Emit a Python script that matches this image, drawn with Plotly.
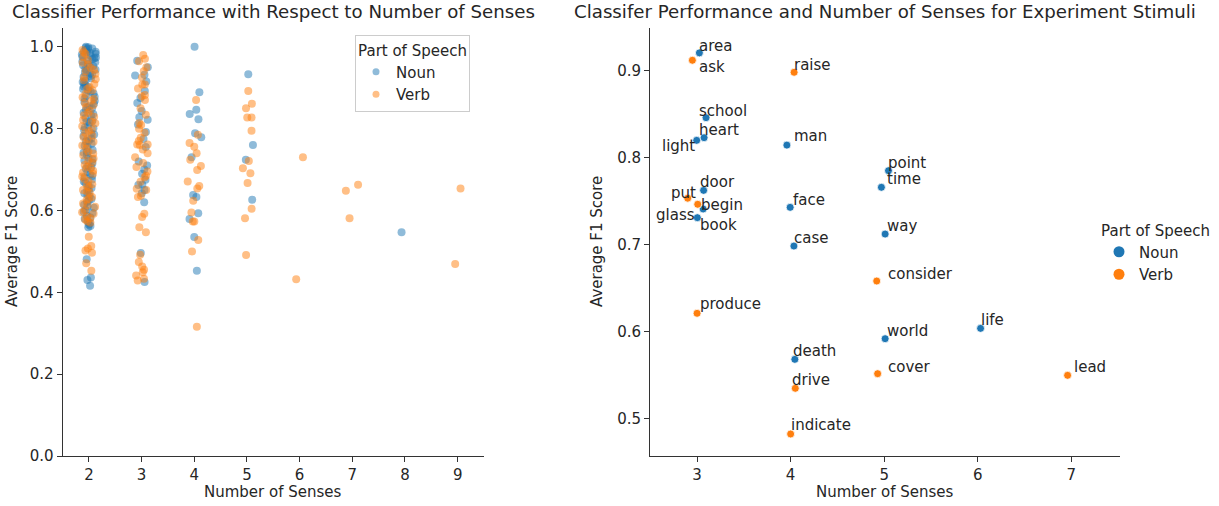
import plotly.graph_objects as go

# ---------------- data: F1 score by number of senses (all words) ----------------
noun_s2 = [1.0, 0.999, 0.998, 0.996, 0.995, 0.993, 0.99, 0.988, 0.987, 0.985, 0.983, 0.981,
           0.978, 0.976, 0.974, 0.972, 0.97, 0.967, 0.964, 0.962, 0.958, 0.955, 0.953, 0.951,
           0.946, 0.944, 0.942, 0.937, 0.935, 0.932, 0.928, 0.926, 0.923, 0.917, 0.914, 0.912,
           0.906, 0.903, 0.901, 0.897, 0.893, 0.891, 0.886, 0.88, 0.878, 0.874, 0.868, 0.865,
           0.861, 0.855, 0.852, 0.85, 0.846, 0.839, 0.836, 0.833, 0.826, 0.82, 0.817, 0.815,
           0.808, 0.803, 0.801, 0.797, 0.789, 0.786, 0.782, 0.776, 0.771, 0.769, 0.763, 0.758,
           0.755, 0.748, 0.743, 0.741, 0.736, 0.729, 0.725, 0.722, 0.716, 0.709, 0.706, 0.702,
           0.694, 0.688, 0.684, 0.681, 0.675, 0.671, 0.668, 0.661, 0.655, 0.652, 0.648, 0.642,
           0.638, 0.635, 0.628, 0.624, 0.621, 0.614, 0.61, 0.607, 0.601, 0.597, 0.594, 0.587,
           0.583, 0.58, 0.573, 0.569, 0.566, 0.562, 0.559, 0.481, 0.436, 0.43, 0.416]
verb_s2 = [0.992, 0.987, 0.983, 0.975, 0.968, 0.961, 0.957, 0.949, 0.944, 0.94, 0.934, 0.925,
           0.921, 0.918, 0.909, 0.902, 0.897, 0.894, 0.884, 0.877, 0.873, 0.869, 0.862, 0.857,
           0.853, 0.844, 0.838, 0.833, 0.829, 0.821, 0.817, 0.813, 0.806, 0.798, 0.794, 0.79,
           0.783, 0.779, 0.774, 0.768, 0.763, 0.759, 0.751, 0.744, 0.739, 0.735, 0.727, 0.722,
           0.718, 0.711, 0.707, 0.703, 0.697, 0.693, 0.69, 0.683, 0.677, 0.672, 0.664, 0.661,
           0.657, 0.65, 0.646, 0.643, 0.633, 0.629, 0.626, 0.617, 0.613, 0.609, 0.6, 0.596,
           0.592, 0.585, 0.581, 0.578, 0.574, 0.57, 0.536, 0.513, 0.507, 0.502, 0.497, 0.471,
           0.453]
noun_s3 = [0.966, 0.95, 0.932, 0.93, 0.915, 0.892, 0.875, 0.863, 0.843, 0.828, 0.822, 0.81,
           0.792, 0.775, 0.755, 0.72, 0.71, 0.7, 0.69, 0.675, 0.663, 0.662, 0.65, 0.642, 0.62,
           0.496, 0.425]
verb_s3 = [0.98, 0.971, 0.965, 0.95, 0.94, 0.925, 0.908, 0.908, 0.898, 0.882, 0.879, 0.87,
           0.85, 0.834, 0.814, 0.809, 0.8, 0.79, 0.778, 0.77, 0.761, 0.761, 0.76, 0.749, 0.74,
           0.73, 0.716, 0.706, 0.695, 0.685, 0.681, 0.67, 0.653, 0.65, 0.636, 0.633, 0.592,
           0.584, 0.559, 0.547, 0.492, 0.474, 0.463, 0.455, 0.449, 0.441, 0.433, 0.429]
noun_s4 = [1.0, 0.889, 0.846, 0.836, 0.823, 0.789, 0.779, 0.73, 0.638, 0.633, 0.593, 0.579,
           0.535, 0.453]
verb_s4 = [0.87, 0.785, 0.765, 0.756, 0.74, 0.724, 0.709, 0.699, 0.671, 0.66, 0.654, 0.624,
           0.595, 0.573, 0.573, 0.528, 0.5, 0.316]
noun_s5 = [0.933, 0.76, 0.724, 0.626]
verb_s5 = [0.892, 0.861, 0.85, 0.827, 0.827, 0.795, 0.721, 0.703, 0.691, 0.667, 0.604, 0.581,
           0.491]
verb_s6 = [0.73, 0.432]
verb_s7 = [0.663, 0.648, 0.581]
noun_s8 = [0.547]
verb_s9 = [0.654, 0.469]

# ---------------- data: experiment stimuli ----------------
stim_words = ["area", "ask", "raise", "school", "heart", "light", "man", "door", "put",
              "begin", "book", "glass", "point", "time", "face", "way", "case", "consider",
              "life", "world", "death", "cover", "lead", "drive", "produce", "indicate"]
stim_pos = ["Noun", "Verb", "Verb", "Noun", "Noun", "Noun", "Noun", "Noun", "Verb",
            "Verb", "Noun", "Noun", "Noun", "Noun", "Noun", "Noun", "Noun", "Verb",
            "Noun", "Noun", "Noun", "Verb", "Verb", "Verb", "Verb", "Verb"]
stim_senses = [3.025, 2.95, 4.037, 3.096, 3.075, 2.996, 3.96, 3.07, 2.90,
               3.007, 3.065, 3.003, 5.046, 4.97, 3.995, 5.01, 4.035, 4.92,
               6.03, 5.01, 4.045, 4.93, 6.96, 4.05, 3.0, 4.0]
stim_f1 = [0.920, 0.9115, 0.8977, 0.8455, 0.8225, 0.8195, 0.814, 0.762, 0.753,
           0.746, 0.7406, 0.7306, 0.7846, 0.7655, 0.7425, 0.7118, 0.698, 0.6578,
           0.6034, 0.5915, 0.5678, 0.5513, 0.5494, 0.5345, 0.6207, 0.482]

# ---------------- styling ----------------
W, H = 1219, 506
FONT = "DejaVu Sans"
TXT = "#262626"
AX = "#333333"
BLUE = "#1f77b4"
ORANGE = "#ff7f0e"
COLORS = {"Noun": BLUE, "Verb": ORANGE}

# label placement in pixels: horizontal shift, baseline offset below the dot, anchor side
label_dx = [-1, 6, -1, -8, -6, -1, 6, -5, 9,
            2, -4, -1, -2, 5, 2, 1, -1, 10,
            -1, 1, -3, 9, 5, -4, 2, -1]
label_base = [-2, 12, -2, -2, -3, 11, -4, -3, 0,
              6, 21, 2, -3, -3, -2, -3, -3, -2,
              -3, -3, -3, -2, -3, -3, -4, -4]
label_side = ["left", "left", "left", "left", "left", "right", "left", "left", "right",
              "left", "left", "right", "left", "left", "left", "left", "left", "left",
              "left", "left", "left", "left", "left", "left", "left", "left"]


def px(x):
    return x / W


def py(y):
    return 1 - y / H


fig = go.Figure()

# strip plot: one invisible box per part of speech carries jittered points
strip_groups = {
    "Noun": [(2, noun_s2), (3, noun_s3), (4, noun_s4), (5, noun_s5), (8, noun_s8)],
    "Verb": [(2, verb_s2), (3, verb_s3), (4, verb_s4), (5, verb_s5), (6, verb_s6),
             (7, verb_s7), (9, verb_s9)],
}
for pos, groups in strip_groups.items():
    xs, ys = [], []
    for senses, vals in groups:
        xs += [senses] * len(vals)
        ys += vals
    fig.add_trace(go.Box(
        x=xs, y=ys, name=pos, boxpoints="all", jitter=0.57, pointpos=0,
        fillcolor="rgba(0,0,0,0)", line=dict(color="rgba(0,0,0,0)", width=0),
        whiskerwidth=0, hoveron="points",
        marker=dict(color=COLORS[pos], size=8, opacity=0.5, line=dict(width=0)),
        showlegend=False, xaxis="x", yaxis="y",
    ))
    fig.add_trace(go.Scatter(
        x=[None], y=[None], mode="markers", name=pos, legend="legend",
        marker=dict(color=COLORS[pos], size=7, opacity=0.5), xaxis="x", yaxis="y",
    ))

# stimuli scatter
for pos in ["Noun", "Verb"]:
    idx = [i for i, p in enumerate(stim_pos) if p == pos]
    fig.add_trace(go.Scatter(
        x=[stim_senses[i] for i in idx], y=[stim_f1[i] for i in idx],
        text=[stim_words[i] for i in idx], mode="markers", name=pos,
        marker=dict(color=COLORS[pos], size=8, line=dict(color="white", width=0.8)),
        showlegend=False, xaxis="x2", yaxis="y2",
    ))
    fig.add_trace(go.Scatter(
        x=[None], y=[None], mode="markers", name=pos, legend="legend2",
        marker=dict(color=COLORS[pos], size=11), xaxis="x2", yaxis="y2",
    ))

annotations = []
for i, word in enumerate(stim_words):
    annotations.append(dict(
        x=stim_senses[i], y=stim_f1[i], xref="x2", yref="y2", text=word,
        showarrow=False, xanchor=label_side[i], yanchor="middle",
        xshift=label_dx[i], yshift=5 - label_base[i], borderpad=0,
        font=dict(family=FONT, size=15, color=TXT),
    ))

for cx, title in [(273, "Classifier Performance with Respect to Number of Senses"),
                  (885, "Classifer Performance and Number of Senses for Experiment Stimuli")]:
    annotations.append(dict(x=px(cx), y=py(12), xref="paper", yref="paper", text=title,
                            showarrow=False, xanchor="center", yanchor="middle",
                            font=dict(family=FONT, size=18.2, color=TXT)))
    annotations.append(dict(x=px(cx), y=py(492), xref="paper", yref="paper",
                            text="Number of Senses", showarrow=False,
                            xanchor="center", yanchor="middle",
                            font=dict(family=FONT, size=15, color=TXT)))
for cx in [12, 597]:
    annotations.append(dict(x=px(cx), y=py(242), xref="paper", yref="paper",
                            text="Average F1 Score", textangle=-90, showarrow=False,
                            xanchor="center", yanchor="middle",
                            font=dict(family=FONT, size=15, color=TXT)))

axis_common = dict(showline=True, linecolor=AX, linewidth=1, ticks="outside", ticklen=5,
                   tickcolor=AX, showgrid=False, zeroline=False,
                   tickfont=dict(family=FONT, size=15, color=TXT))
ydom = [py(456), py(28)]

fig.update_layout(
    width=W, height=H,
    margin=dict(l=0, r=0, t=0, b=0, autoexpand=False),
    paper_bgcolor="white", plot_bgcolor="white",
    boxmode="overlay",
    font=dict(family=FONT, size=15, color=TXT),
    xaxis=dict(domain=[px(62.6), px(484)], range=[1.5, 9.5],
               tickvals=[2, 3, 4, 5, 6, 7, 8, 9], anchor="y", **axis_common),
    yaxis=dict(domain=ydom, range=[0, 1.046], tickvals=[0, 0.2, 0.4, 0.6, 0.8, 1.0],
               tickformat=".1f", anchor="x", **axis_common),
    xaxis2=dict(domain=[px(650), px(1120)], range=[2.497, 7.52],
                tickvals=[3, 4, 5, 6, 7], anchor="y2", **axis_common),
    yaxis2=dict(domain=ydom, range=[0.4567, 0.9486], tickvals=[0.5, 0.6, 0.7, 0.8, 0.9],
                tickformat=".1f", anchor="x2", **axis_common),
    legend=dict(x=px(355), y=py(35), xanchor="left", yanchor="top",
                bordercolor="#cccccc", borderwidth=1, bgcolor="white",
                title=dict(text="Part of Speech", side="top center",
                           font=dict(family=FONT, size=15, color=TXT)),
                font=dict(family=FONT, size=15, color=TXT)),
    legend2=dict(x=px(1099), y=py(216), xanchor="left", yanchor="top",
                 borderwidth=0, bgcolor="rgba(0,0,0,0)",
                 title=dict(text="Part of Speech", side="top center",
                            font=dict(family=FONT, size=15, color=TXT)),
                 font=dict(family=FONT, size=15, color=TXT)),
    annotations=annotations,
    showlegend=True,
)

fig.write_html("out.html")
